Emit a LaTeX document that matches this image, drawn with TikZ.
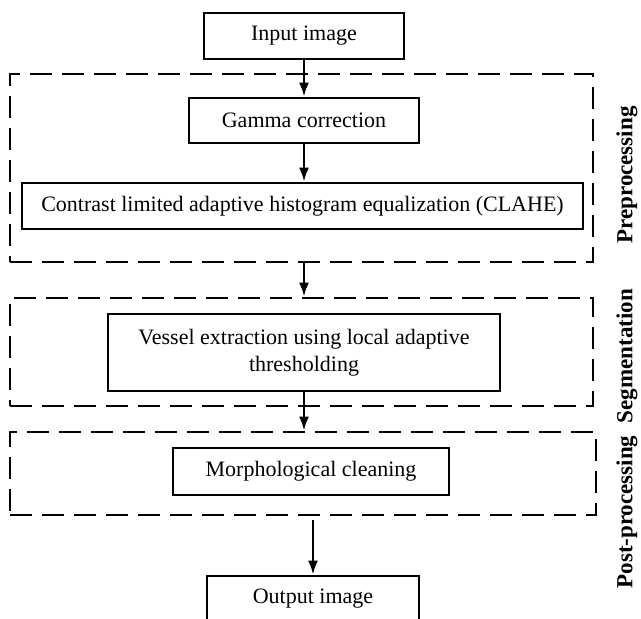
\documentclass[tikz,border=0pt]{standalone}
\usepackage{fontspec}
\setmainfont{Liberation Serif}
\usetikzlibrary{arrows.meta}

\begin{document}
\begin{tikzpicture}[x=0.5pt,y=-0.5pt,
    procbox/.style={draw,line width=1.4pt,inner sep=2pt,align=center,
      font=\fontsize{11}{13.5}\selectfont},
    stagebox/.style={draw,line width=1.4pt,dash pattern=on 11pt off 5pt,inner sep=0pt},
    stagelabel/.style={rotate=90,font=\fontsize{11.5}{14}\selectfont\bfseries},
    flow/.style={-{Latex[length=7pt,width=5pt]},line width=1.2pt}]
  \clip (0,0) rectangle (641,618);
  \node[stagebox,minimum width=291.5pt,minimum height=94pt] (pre) at (301.5,168) {};
  \node[stagebox,minimum width=291.5pt,minimum height=54pt] (seg) at (301.5,352) {};
  \node[stagebox,minimum width=293pt,minimum height=41.5pt] (post) at (303,473.5) {};
  \node[procbox,minimum width=100pt,minimum height=23pt] (inp) at (304,36) {Input image};
  \node[procbox,minimum width=115pt,minimum height=22.5pt] (gam) at (304,120.5) {Gamma correction};
  \node[procbox,minimum width=280.5pt,minimum height=23pt] (cla) at (302.5,206)
    {Contrast limited adaptive histogram equalization (CLAHE)};
  \node[procbox,minimum width=196pt,minimum height=38.5pt] (ves) at (304,352.5)
    {Vessel extraction using local adaptive\\thresholding};
  \node[procbox,minimum width=138pt,minimum height=23.5pt] (mor) at (311,471.5) {Morphological cleaning};
  \node[procbox,minimum width=106pt,minimum height=23pt] (out) at (313,599) {Output image};
  \node[stagelabel] (lpre) at (627,175) {Preprocessing};
  \node[stagelabel] (lseg) at (627,356) {Segmentation};
  \node[stagelabel] (lpost) at (627,512) {Post-processing};
  \draw[flow] (inp) -- (gam);
  \draw[flow] (gam.south) -- (gam.south |- cla.north);
  \draw[flow] (pre.south -| gam) -- (seg.north -| gam);
  \draw[flow] (ves.south) -- (ves.south |- post.north);
  \draw[flow] ([yshift=-2pt]post.south -| out) -- (out.north);
\end{tikzpicture}
\end{document}
